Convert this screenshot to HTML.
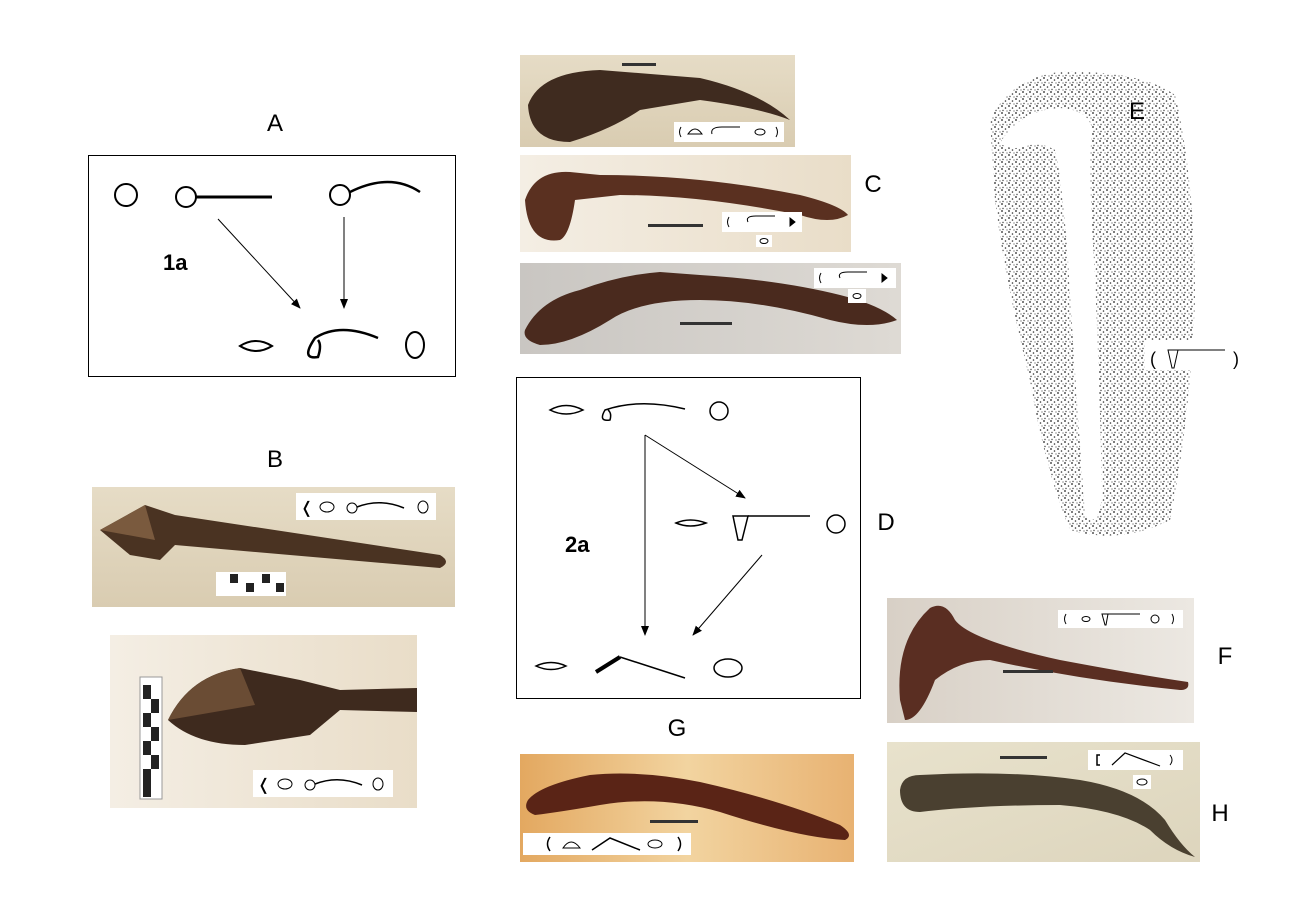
<!DOCTYPE html>
<html><head><meta charset="utf-8"><style>
html,body{margin:0;padding:0;background:#fff}
svg{display:block}
text{font-family:"Liberation Sans",sans-serif}
</style></head><body>
<svg width="1300" height="919" viewBox="0 0 1300 919" xmlns="http://www.w3.org/2000/svg">
<defs>
<marker id="ar" markerWidth="10" markerHeight="8" refX="9" refY="4" orient="auto"><path d="M0,0 L10,4 L0,8 z" fill="#000"/></marker>
<linearGradient id="bg1" x1="0" y1="0" x2="0" y2="1"><stop offset="0" stop-color="#e6dcc6"/><stop offset="1" stop-color="#d9ccb1"/></linearGradient>
<linearGradient id="bg2" x1="0" y1="0" x2="1" y2="0"><stop offset="0" stop-color="#f4eee4"/><stop offset="1" stop-color="#e9ddc8"/></linearGradient>
<linearGradient id="bg3" x1="0" y1="0" x2="1" y2="0"><stop offset="0" stop-color="#c9c6c2"/><stop offset="1" stop-color="#dedad4"/></linearGradient>
<linearGradient id="bgG" x1="0" y1="0" x2="1" y2="0"><stop offset="0" stop-color="#e3a860"/><stop offset="0.5" stop-color="#f2d4a0"/><stop offset="1" stop-color="#e8b272"/></linearGradient>
<linearGradient id="bgF" x1="0" y1="0" x2="1" y2="0"><stop offset="0" stop-color="#d8d0c6"/><stop offset="1" stop-color="#ece8e2"/></linearGradient>
<linearGradient id="bgH" x1="0" y1="0" x2="1" y2="1"><stop offset="0" stop-color="#e8e2cc"/><stop offset="1" stop-color="#ddd5bd"/></linearGradient>
<pattern id="dots" width="7" height="7" patternUnits="userSpaceOnUse"><rect width="7" height="7" fill="#fff"/><circle cx="1" cy="1" r="0.9" fill="#222"/><circle cx="4.5" cy="3" r="0.8" fill="#333"/><circle cx="2" cy="5.5" r="0.7" fill="#444"/><circle cx="6" cy="6" r="0.6" fill="#555"/></pattern>
</defs>

<!-- A -->
<text x="275" y="131" font-size="24" text-anchor="middle">A</text>
<rect x="88.5" y="155.5" width="367" height="221" fill="none" stroke="#000" stroke-width="1"/>
<circle cx="126" cy="195" r="11" fill="none" stroke="#000" stroke-width="2"/>
<circle cx="186" cy="197" r="10" fill="none" stroke="#000" stroke-width="2"/>
<line x1="196" y1="197" x2="272" y2="197" stroke="#000" stroke-width="3"/>
<circle cx="340" cy="195" r="10" fill="none" stroke="#000" stroke-width="2"/>
<path d="M350,192 Q390,172 420,192" fill="none" stroke="#000" stroke-width="2.5"/>
<text x="163" y="270" font-size="22" font-weight="bold">1a</text>
<line x1="218" y1="219" x2="300" y2="308" stroke="#000" marker-end="url(#ar)"/>
<line x1="344" y1="217" x2="344" y2="308" stroke="#000" marker-end="url(#ar)"/>
<path d="M240,346 Q256,336 272,346 Q256,356 240,346 z" fill="none" stroke="#000" stroke-width="2"/>
<path d="M378,338 Q340,322 315,338 Q300,360 318,357 Q322,345 318,340" fill="none" stroke="#000" stroke-width="2.5"/>
<ellipse cx="415" cy="345" rx="9" ry="13" fill="none" stroke="#000" stroke-width="2"/>

<!-- B -->
<text x="275" y="467" font-size="24" text-anchor="middle">B</text>
<rect x="92" y="487" width="363" height="120" fill="url(#bg1)"/>
<path d="M100,530 L145,505 L175,515 L440,555 Q452,562 440,568 L175,545 L160,560 L130,555 z" fill="#4a3322"/>
<path d="M100,530 L145,505 L155,540 z" fill="#7a5a3e"/>
<rect x="216" y="572" width="70" height="24" fill="#fff"/>
<g fill="#222"><rect x="230" y="574" width="8" height="9"/><rect x="246" y="583" width="8" height="9"/><rect x="262" y="574" width="8" height="9"/><rect x="276" y="583" width="8" height="9"/></g>
<rect x="296" y="493" width="140" height="27" fill="#fff"/>
<text x="300" y="513" font-size="16">❬</text>
<ellipse cx="327" cy="507" rx="7" ry="5" fill="none" stroke="#000"/>
<circle cx="352" cy="508" r="5" fill="none" stroke="#000"/>
<path d="M357,507 Q380,498 404,508" fill="none" stroke="#000" stroke-width="1.5"/>
<ellipse cx="423" cy="507" rx="5" ry="6" fill="none" stroke="#000"/>

<rect x="110" y="635" width="307" height="173" fill="url(#bg2)"/>
<path d="M168,720 Q190,675 240,668 L300,680 L340,690 L417,688 L417,712 L340,710 L310,735 L245,745 Q195,745 168,720 z" fill="#3e2a1e"/>
<path d="M168,720 Q190,675 240,668 L255,705 z" fill="#6a4c34"/>
<rect x="140" y="677" width="22" height="122" fill="#fff" stroke="#999"/>
<g fill="#222"><rect x="143" y="685" width="8" height="14"/><rect x="151" y="699" width="8" height="14"/><rect x="143" y="713" width="8" height="14"/><rect x="151" y="727" width="8" height="14"/><rect x="143" y="741" width="8" height="14"/><rect x="151" y="755" width="8" height="14"/><rect x="143" y="769" width="8" height="28"/></g>
<rect x="253" y="770" width="140" height="27" fill="#fff"/>
<text x="257" y="790" font-size="16">❬</text>
<ellipse cx="285" cy="784" rx="7" ry="5" fill="none" stroke="#000"/>
<circle cx="310" cy="785" r="5" fill="none" stroke="#000"/>
<path d="M315,784 Q338,775 362,785" fill="none" stroke="#000" stroke-width="1.5"/>
<ellipse cx="378" cy="784" rx="5" ry="6" fill="none" stroke="#000"/>

<!-- C -->
<rect x="520" y="55" width="275" height="92" fill="url(#bg1)"/>
<path d="M528,105 Q540,72 600,70 L700,78 Q760,92 790,120 Q760,108 700,100 L640,110 Q610,130 570,142 Q530,142 528,105 z" fill="#3f2b1f"/>
<rect x="622" y="63" width="34" height="3" fill="#333"/>
<rect x="674" y="122" width="110" height="20" fill="#fff"/>
<g fill="none" stroke="#000"><path d="M681,127 Q678,132 681,137"/><path d="M688,134 Q695,124 702,134 z"/><path d="M712,134 Q710,127 722,127 L740,127"/><ellipse cx="760" cy="132" rx="5" ry="3"/><path d="M776,127 Q779,132 776,137"/></g>
<text x="873" y="192" font-size="24" text-anchor="middle">C</text>
<rect x="520" y="155" width="331" height="97" fill="url(#bg2)"/>
<path d="M525,200 Q535,170 570,172 L600,175 Q700,175 800,195 Q840,205 848,215 Q830,225 800,215 Q700,195 620,195 L575,200 Q570,235 560,240 Q528,245 525,200 z" fill="#5a3020"/>
<rect x="648" y="224" width="55" height="3" fill="#333"/>
<rect x="722" y="212" width="80" height="20" fill="#fff"/>
<g fill="none" stroke="#000"><path d="M729,217 Q726,222 729,227"/><path d="M748,222 Q745,216 756,216 L775,216"/><path d="M790,218 L795,222 L790,226 z" fill="#000"/></g>
<rect x="756" y="235" width="16" height="12" fill="#fff"/>
<ellipse cx="764" cy="241" rx="4" ry="2.5" fill="none" stroke="#000"/>
<rect x="520" y="263" width="381" height="91" fill="url(#bg3)"/>
<path d="M525,330 Q540,300 580,290 Q620,275 660,272 L700,275 Q780,280 840,295 Q880,305 897,320 Q870,330 830,320 Q760,300 700,300 Q640,300 610,320 Q570,345 540,345 Q522,340 525,330 z" fill="#4a2a1e"/>
<rect x="680" y="322" width="52" height="3" fill="#333"/>
<rect x="814" y="268" width="82" height="20" fill="#fff"/>
<g fill="none" stroke="#000"><path d="M821,273 Q818,278 821,283"/><path d="M840,278 Q837,272 848,272 L867,272"/><path d="M882,274 L887,278 L882,282 z" fill="#000"/></g>
<rect x="848" y="289" width="18" height="14" fill="#fff"/>
<ellipse cx="857" cy="296" rx="4" ry="2.5" fill="none" stroke="#000"/>

<!-- D -->
<rect x="516.5" y="377.5" width="344" height="321" fill="none" stroke="#000"/>
<path d="M550,410 Q566,401 583,410 Q566,418 550,410 z" fill="none" stroke="#000" stroke-width="1.5"/>
<path d="M685,409 Q640,398 605,410 Q598,422 610,420 Q612,413 608,410" fill="none" stroke="#000" stroke-width="1.5"/>
<circle cx="719" cy="411" r="9" fill="none" stroke="#000" stroke-width="1.5"/>
<line x1="645" y1="435" x2="745" y2="498" stroke="#000" marker-end="url(#ar)"/>
<line x1="645" y1="435" x2="645" y2="635" stroke="#000" marker-end="url(#ar)"/>
<line x1="762" y1="555" x2="693" y2="635" stroke="#000" marker-end="url(#ar)"/>
<path d="M676,523 Q690,517 706,523 Q690,529 676,523 z" fill="none" stroke="#000" stroke-width="1.5"/>
<path d="M733,516 L748,516 L742,540 L738,540 z" fill="none" stroke="#000" stroke-width="1.5"/>
<line x1="748" y1="516" x2="810" y2="516" stroke="#000" stroke-width="1.5"/>
<circle cx="836" cy="524" r="9" fill="none" stroke="#000" stroke-width="1.5"/>
<text x="565" y="552" font-size="22" font-weight="bold">2a</text>
<text x="886" y="530" font-size="24" text-anchor="middle">D</text>
<path d="M536,666 Q551,659 566,666 Q551,673 536,666 z" fill="none" stroke="#000" stroke-width="1.5"/>
<line x1="596" y1="672" x2="620" y2="657" stroke="#000" stroke-width="4"/>
<line x1="620" y1="657" x2="685" y2="678" stroke="#000" stroke-width="1.5"/>
<ellipse cx="728" cy="668" rx="14" ry="9" fill="none" stroke="#000" stroke-width="1.5"/>

<!-- E -->
<path d="M990,120 Q1010,78 1060,72 Q1140,70 1175,95 Q1195,180 1195,300 Q1190,420 1170,520 Q1120,545 1070,530 Q1045,470 1030,380 Q1005,280 995,200 z" fill="url(#dots)"/>
<path d="M1000,143 Q1020,110 1060,108 Q1090,110 1092,130 Q1088,170 1094,260 Q1100,380 1102,500 Q1095,530 1085,515 Q1075,380 1068,260 Q1062,180 1055,150 Q1040,142 1030,145 Q1010,152 1000,143 z" fill="#fff"/>
<text x="1137" y="119" font-size="24" text-anchor="middle">E</text>
<rect x="1145" y="340" width="100" height="30" fill="#fff"/>
<text x="1150" y="365" font-size="18">(</text>
<path d="M1168,350 L1178,350 L1174,368 L1172,368 z" fill="none" stroke="#000"/>
<line x1="1178" y1="350" x2="1225" y2="350" stroke="#000"/>
<text x="1233" y="365" font-size="18">)</text>

<!-- F -->
<rect x="887" y="598" width="307" height="125" fill="url(#bgF)"/>
<path d="M900,700 Q895,640 930,608 Q945,600 955,620 Q970,640 1060,660 Q1140,675 1188,682 Q1190,690 1180,690 Q1080,680 990,660 Q960,660 935,680 Q920,720 905,720 z" fill="#5a2e22"/>
<rect x="1003" y="670" width="50" height="3" fill="#333"/>
<rect x="1058" y="610" width="125" height="18" fill="#fff"/>
<g fill="none" stroke="#000"><path d="M1066,614 Q1063,619 1066,624"/><ellipse cx="1086" cy="619" rx="4" ry="2.5"/><path d="M1102,614 L1108,614 L1106,625 L1105,625 z"/><line x1="1108" y1="614" x2="1140" y2="614"/><circle cx="1155" cy="619" r="4"/><path d="M1172,614 Q1175,619 1172,624"/></g>
<text x="1225" y="664" font-size="24" text-anchor="middle">F</text>

<!-- H -->
<rect x="887" y="742" width="313" height="120" fill="url(#bgH)"/>
<path d="M900,790 Q902,775 920,775 Q1010,770 1080,780 Q1140,790 1165,820 Q1180,845 1195,857 Q1170,850 1150,830 Q1120,810 1060,805 Q980,805 920,812 Q900,812 900,790 z" fill="#4a4030"/>
<rect x="1000" y="756" width="47" height="3" fill="#333"/>
<rect x="1088" y="750" width="95" height="20" fill="#fff"/>
<g fill="none" stroke="#000"><path d="M1100,755 L1097,755 L1097,765 L1100,765" stroke-width="1.5"/><path d="M1112,765 L1125,753 L1160,766" stroke-width="1.2"/><path d="M1170,755 Q1174,760 1170,765"/></g>
<rect x="1133" y="775" width="18" height="14" fill="#fff"/>
<ellipse cx="1142" cy="782" rx="5" ry="3" fill="none" stroke="#000"/>
<text x="1220" y="821" font-size="24" text-anchor="middle">H</text>

<!-- G -->
<text x="677" y="736" font-size="24" text-anchor="middle">G</text>
<rect x="520" y="754" width="334" height="108" fill="url(#bgG)"/>
<path d="M528,800 Q540,785 590,775 Q640,770 700,782 Q780,800 840,825 Q855,835 845,840 Q800,838 720,812 Q660,795 600,805 Q560,812 535,815 Q522,810 528,800 z" fill="#5a2416"/>
<rect x="650" y="820" width="48" height="3" fill="#333"/>
<rect x="523" y="833" width="168" height="22" fill="#fff"/>
<g fill="none" stroke="#000" stroke-width="1.5"><path d="M550,837 Q545,844 550,851"/><path d="M563,848 Q571,836 580,848 z" stroke-width="1"/><path d="M592,850 L610,838 L640,850"/><ellipse cx="655" cy="844" rx="7" ry="4" stroke-width="1"/><path d="M678,837 Q683,844 678,851"/></g>
</svg>
</body></html>
